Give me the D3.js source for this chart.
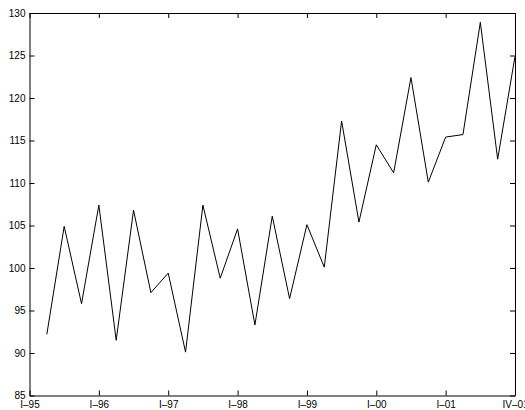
<!DOCTYPE html>
<html>
<head>
<meta charset="utf-8">
<script src="https://cdn.jsdelivr.net/npm/d3@7"></script>
<style>
  body { margin: 0; background: #fff; }
  svg { display: block; }
  .axis text { font-family: "Liberation Sans", Arial, sans-serif; font-size: 10px; fill: #000; }
  .axis path, .axis line { stroke: #000; }
</style>
</head>
<body>
<svg id="chart" width="525" height="410"></svg>
<script>
// quarterly index, I-95 .. IV-01
const quarters = d3.range(1, 29);
const values = [
  92.2, 104.9, 95.8, 107.4, 91.5, 106.8, 97.1, 99.4,
  90.1, 107.4, 98.8, 104.6, 93.3, 106.1, 96.4, 105.1,
  100.1, 117.3, 105.4, 114.5, 111.2, 122.4, 110.1, 115.4,
  115.7, 128.9, 112.8, 124.9
];
const xTicks = [0, 4, 8, 12, 16, 20, 24, 28];
const xTickLabels = ["I–95", "I–96", "I–97", "I–98", "I–99", "I–00", "I–01", "IV–01"];
const yTicks = [85, 90, 95, 100, 105, 110, 115, 120, 125, 130];

const margin = { top: 13, right: 10, bottom: 14.5, left: 29.5 };
const width = 525 - margin.left - margin.right;
const height = 410 - margin.top - margin.bottom;

const svg = d3.select("#chart");
const g = svg.append("g").attr("transform", `translate(${margin.left},${margin.top})`);

const x = d3.scaleLinear().domain([0, 28]).range([0, width]);
const y = d3.scaleLinear().domain([85, 130]).range([height, 0]);

// axes, ticks pointing inward
g.append("g")
  .attr("class", "axis")
  .attr("transform", `translate(0,${height})`)
  .call(d3.axisBottom(x).tickValues(xTicks).tickSize(-5).tickSizeOuter(0).tickPadding(5)
    .tickFormat((d, i) => xTickLabels[i]));

g.append("g")
  .attr("class", "axis")
  .call(d3.axisTop(x).tickValues(xTicks).tickSize(-5).tickSizeOuter(0).tickFormat(""));

g.append("g")
  .attr("class", "axis")
  .call(d3.axisLeft(y).tickValues(yTicks).tickSize(-5).tickSizeOuter(0).tickPadding(4));

g.append("g")
  .attr("class", "axis")
  .attr("transform", `translate(${width},0)`)
  .call(d3.axisRight(y).tickValues(yTicks).tickSize(-5).tickSizeOuter(0).tickFormat(""));

const line = d3.line()
  .x((d, i) => x(quarters[i]))
  .y(d => y(d));

g.append("path")
  .datum(values)
  .attr("fill", "none")
  .attr("stroke", "#000")
  .attr("stroke-width", 1)
  .attr("d", line);
</script>
</body>
</html>
